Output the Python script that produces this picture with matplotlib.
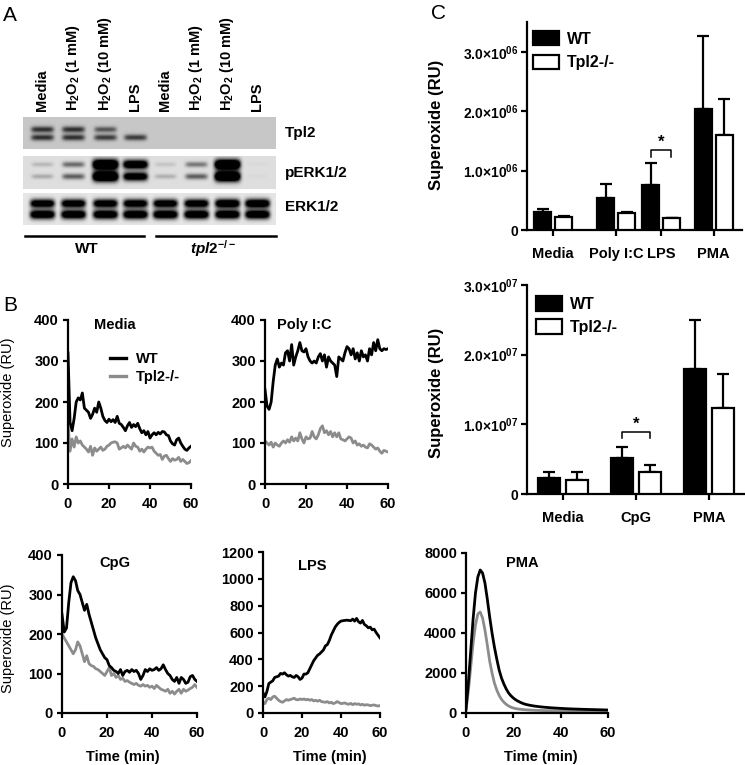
import numpy as np
import matplotlib
matplotlib.use("Agg")
import matplotlib.pyplot as plt
from matplotlib.lines import Line2D

plt.rcParams["font.family"] = ["Liberation Sans", "DejaVu Sans"]
plt.rcParams["font.weight"] = "bold"
plt.rcParams["mathtext.fontset"] = "custom"
plt.rcParams["mathtext.rm"] = "Liberation Sans:bold"
plt.rcParams["mathtext.bf"] = "Liberation Sans:bold"
plt.rcParams["mathtext.it"] = "Liberation Sans:bold:italic"
plt.rcParams["axes.linewidth"] = 1.5

W, H = 745, 765

# ---------------------------------------------------------------------------
# Panel A: western blot band intensities (0 = none, >1 = saturated)
# ---------------------------------------------------------------------------
lane_labels = ["Media", r"H$_2$O$_2$ (1 mM)", r"H$_2$O$_2$ (10 mM)", "LPS",
               "Media", r"H$_2$O$_2$ (1 mM)", r"H$_2$O$_2$ (10 mM)", "LPS"]
blot_labels = ["Tpl2", "pERK1/2", "ERK1/2"]
tpl2_upper = [0.60, 0.60, 0.45, 0.0, 0.0, 0.0, 0.0, 0.0]
tpl2_lower = [0.60, 0.60, 0.55, 0.55, 0.0, 0.0, 0.0, 0.0]
perk_upper = [0.15, 0.45, 1.6, 1.3, 0.10, 0.40, 1.6, 0.02]
perk_lower = [0.20, 0.50, 1.6, 1.2, 0.18, 0.50, 1.6, 0.02]
erk_upper = [1.2, 1.2, 1.2, 1.2, 1.2, 1.2, 1.3, 1.3]
erk_lower = [1.3, 1.3, 1.3, 1.3, 1.3, 1.3, 1.3, 1.3]

# ---------------------------------------------------------------------------
# Panel B: superoxide time courses, 1-min readings 0..60 min
# ---------------------------------------------------------------------------
media_wt = [320, 150, 130, 160, 200, 210, 205, 222, 185, 180,
            175, 160, 170, 185, 175, 200, 185, 165, 155, 150,
            158, 152, 157, 150, 165, 148, 145, 138, 130, 142,
            150, 138, 145, 140, 148, 135, 125, 130, 120, 128,
            112, 120, 125, 120, 126, 122, 128, 127, 120, 118,
            105, 98, 95, 108, 112, 100, 92, 85, 82, 88, 92]
media_ko = [150, 80, 110, 90, 115, 100, 105, 95, 90, 85,
            78, 92, 70, 88, 80, 85, 90, 82, 85, 92,
            95, 100, 102, 103, 100, 85, 88, 92, 88, 95,
            90, 85, 100, 92, 90, 80, 85, 78, 85, 90,
            88, 90, 80, 75, 70, 72, 60, 68, 70, 62,
            55, 62, 58, 60, 65, 55, 60, 55, 50, 52, 57]
poly_wt = [230, 190, 182, 200, 250, 290, 305, 285, 295, 290,
           320, 325, 300, 340, 290, 310, 325, 345, 325, 322,
           330, 310, 300, 295, 300, 295, 310, 318, 300, 315,
           285, 310, 300, 295, 290, 262, 310, 305, 300, 320,
           335, 330, 315, 330, 305, 320, 300, 325, 310, 315,
           300, 330, 315, 345, 325, 352, 330, 325, 330, 328, 330]
poly_ko = [105, 100, 95, 102, 90, 100, 95, 92, 100, 105,
           100, 108, 102, 115, 105, 112, 105, 125, 110, 100,
           115, 110, 112, 128, 115, 110, 120, 135, 142, 125,
           130, 120, 128, 115, 125, 115, 125, 110, 108, 105,
           110, 115, 112, 100, 105, 95, 98, 92, 95, 90,
           88, 98, 95, 90, 85, 88, 80, 75, 82, 80, 78]
cpg_wt = [250, 205, 215, 280, 330, 345, 335, 310, 300, 280,
          260, 275, 250, 230, 210, 190, 175, 160, 150, 140,
          135, 120, 115, 108, 105, 100, 110, 95, 105, 108,
          103, 110, 105, 108, 100, 85, 95, 110, 105, 112,
          108, 110, 115, 108, 112, 122, 110, 100, 95, 85,
          80, 90, 75, 90, 85, 75, 78, 92, 95, 85, 80]
cpg_ko = [200, 190, 180, 170, 160, 150, 160, 180, 170, 150,
          130, 145, 125, 120, 118, 112, 110, 105, 100, 95,
          105, 115, 95, 100, 90, 95, 85, 88, 80, 82,
          78, 75, 72, 75, 70, 68, 72, 68, 70, 65,
          68, 62, 70, 65, 60, 58, 55, 60, 50, 55,
          48, 55, 60, 50, 60, 55, 58, 62, 65, 72, 65]
lps_wt = [150, 120, 160, 220, 230, 240, 265, 270, 275, 295,
          290, 300, 285, 275, 280, 270, 265, 280, 270, 250,
          260, 290, 290, 300, 330, 360, 390, 410, 430, 440,
          455, 470, 500, 510, 540, 580, 610, 640, 660, 675,
          685, 688, 690, 692, 690, 688, 700, 685, 705, 680,
          670, 690, 660, 650, 635, 640, 620, 625, 600, 580, 560]
lps_ko = [80, 70, 100, 110, 100, 120, 125, 110, 95, 85,
          80, 90, 100, 95, 100, 105, 110, 100, 98, 105,
          100, 105, 98, 102, 95, 100, 90, 95, 88, 95,
          85, 82, 80, 85, 75, 80, 70, 75, 85, 78,
          70, 72, 75, 68, 65, 72, 62, 70, 65, 68,
          60, 65, 58, 62, 60, 55, 58, 60, 55, 52, 55]
pma_wt = [200, 1500, 3100, 4700, 6000, 6800, 7150, 7000, 6500, 5700,
          4800, 4000, 3300, 2700, 2150, 1750, 1450, 1200, 1000, 860,
          750, 660, 590, 530, 480, 440, 410, 385, 365, 345,
          330, 315, 302, 290, 280, 270, 260, 252, 245, 238,
          230, 224, 218, 212, 207, 202, 198, 194, 190, 186,
          182, 178, 175, 172, 169, 166, 163, 160, 157, 154, 150]
pma_ko = [150, 1100, 2300, 3500, 4400, 4950, 5050, 4750, 4150, 3400,
          2600, 2000, 1500, 1150, 880, 680, 540, 430, 350, 290,
          250, 220, 200, 185, 172, 162, 154, 147, 141, 136,
          132, 128, 125, 122, 119, 117, 115, 113, 111, 109,
          107, 105, 104, 103, 102, 101, 100, 99, 98, 97,
          96, 95, 94, 93, 92, 91, 90, 90, 89, 89, 88]

# ---------------------------------------------------------------------------
# Panel C: integrated superoxide, mean and upper SD
# ---------------------------------------------------------------------------
c1_groups = ["Media", "Poly I:C", "LPS", "PMA"]
c1_wt = [0.31e6, 0.54e6, 0.75e6, 2.04e6]
c1_wt_err = [0.05e6, 0.23e6, 0.37e6, 1.22e6]
c1_ko = [0.22e6, 0.29e6, 0.20e6, 1.60e6]
c1_ko_err = [0.01e6, 0.02e6, 0.01e6, 0.60e6]

c2_groups = ["Media", "CpG", "PMA"]
c2_wt = [0.225e7, 0.51e7, 1.80e7]
c2_wt_err = [0.095e7, 0.16e7, 0.70e7]
c2_ko = [0.20e7, 0.31e7, 1.23e7]
c2_ko_err = [0.11e7, 0.11e7, 0.49e7]

GRAY = "#8c8c8c"


def px_axes(fig, x0, y0, x1, y1):
    return fig.add_axes([x0 / W, 1 - y1 / H, (x1 - x0) / W, (y1 - y0) / H])


def blot_strip(ax, upper, lower, lane_x, bg, y_up, y_lo, h, w=253):
    xs = np.arange(w)[None, :]
    ys = np.arange(h)[:, None]
    img = np.full((h, w), bg, dtype=float)
    for i, (a, b) in enumerate(zip(upper, lower)):
        cx = lane_x[i]
        for amp, cy in ((a, y_up), (b, y_lo)):
            if amp <= 0:
                continue
            hh = 2.0 + 1.9 * min(amp, 1.6)
            hw = 10.5 + 1.5 * min(amp, 1.6)
            prof = np.exp(-((xs - cx) / hw) ** 6) * np.exp(-((ys - cy) / hh) ** 2)
            img -= amp * prof
    ax.imshow(np.clip(img, 0, 1), cmap="gray", vmin=0, vmax=1,
              aspect="auto", interpolation="bilinear")
    ax.axis("off")


def style_axes(ax, size=10):
    for s in ("top", "right"):
        ax.spines[s].set_visible(False)
    for s in ("left", "bottom"):
        ax.spines[s].set_linewidth(1.6)
    ax.tick_params(direction="out", length=3.5, width=1.6, labelsize=size, pad=3)
    for lab in ax.get_xticklabels() + ax.get_yticklabels():
        lab.set_fontweight("bold")


def time_panel(fig, rect, wt, ko, ymax, ystep):
    ax = px_axes(fig, *rect)
    ax.plot(np.linspace(0, 60, len(wt)), wt, color="black", lw=2.0, zorder=3)
    ax.plot(np.linspace(0, 60, len(ko)), ko, color=GRAY, lw=2.0, zorder=2)
    ax.set_xlim(0, 60)
    ax.set_ylim(0, ymax)
    ax.set_xticks([0, 20, 40, 60])
    ax.set_yticks(np.arange(0, ymax + 1, ystep))
    style_axes(ax, 10.5)
    ax.tick_params(axis="x", pad=6)
    for s in ("left", "bottom"):
        ax.spines[s].set_clip_on(False)
    return ax


def bar_panel(fig, rect, groups, centers, off, width, wt, wt_err, ko, ko_err,
              ymax, yticks, ylabels, xmax):
    ax = px_axes(fig, *rect)
    xw = [c - off for c in centers]
    xk = [c + off for c in centers]
    b1 = ax.bar(xw, wt, width, color="black", edgecolor="black", lw=1.6, zorder=3)
    b2 = ax.bar(xk, ko, width, color="white", edgecolor="black", lw=1.6, zorder=3)
    ax.errorbar(xw, wt, yerr=[np.zeros(len(wt)), wt_err], fmt="none",
                ecolor="black", elinewidth=1.6, capsize=4, capthick=1.6, zorder=2)
    ax.errorbar(xk, ko, yerr=[np.zeros(len(ko)), ko_err], fmt="none",
                ecolor="black", elinewidth=1.6, capsize=4, capthick=1.6, zorder=2)
    ax.set_xlim(0, xmax)
    ax.set_ylim(0, ymax)
    ax.set_yticks(yticks)
    ax.set_yticklabels(ylabels)
    ax.set_xticks(centers)
    ax.set_xticklabels(groups)
    style_axes(ax, 10)
    ax.tick_params(axis="x", length=4, labelsize=10.5, pad=8)
    ax.tick_params(axis="y", length=4, pad=2)
    return ax, b1, b2


def bracket(ax, x0, x1, y_arm, y_top, y_star):
    ax.plot([x0, x0, x1, x1], [y_arm, y_top, y_top, y_arm], color="black", lw=1.1)
    ax.text((x0 + x1) / 2, y_star, "*", ha="center", va="center", fontsize=12)


fig = plt.figure(figsize=(W / 100, H / 100), dpi=100)

# ---- A: blot ----------------------------------------------------------------
lane_px = [42, 73, 105, 135, 165, 196, 227, 257]
lane_rel = [x - 23 for x in lane_px]
ax_t = px_axes(fig, 23, 117, 276, 149)
blot_strip(ax_t, tpl2_upper, tpl2_lower, lane_rel, 0.78, 12, 20, 32)
ax_p = px_axes(fig, 23, 156, 276, 189)
blot_strip(ax_p, perk_upper, perk_lower, lane_rel, 0.87, 8, 20, 33)
ax_e = px_axes(fig, 23, 193, 276, 225)
blot_strip(ax_e, erk_upper, erk_lower, lane_rel, 0.90, 10, 21, 32)

# ---- B: time courses ---------------------------------------------------------
ax_m = time_panel(fig, (68, 320, 191, 484), media_wt, media_ko, 400, 100)
ax_pic = time_panel(fig, (265, 320, 388, 484), poly_wt, poly_ko, 400, 100)
ax_c = time_panel(fig, (62, 555, 197, 713), cpg_wt, cpg_ko, 400, 100)
ax_l = time_panel(fig, (263, 552, 380, 713), lps_wt, lps_ko, 1200, 200)
ax_pm = time_panel(fig, (466, 553, 608, 713), pma_wt, pma_ko, 8000, 2000)

ax_m.legend(handles=[Line2D([], [], color="black", lw=2.4),
                     Line2D([], [], color=GRAY, lw=2.4)],
            labels=["WT", "Tpl2-/-"], loc="upper left", frameon=False,
            bbox_to_anchor=(110 / W, 1 - 352 / H), bbox_transform=fig.transFigure,
            borderaxespad=0, borderpad=0, handlelength=1.1, handletextpad=0.7,
            labelspacing=0.25, prop={"size": 10.5, "weight": "bold"})

# ---- C: bar charts -----------------------------------------------------------
sci6 = ["0", r"1.0×10$^{06}$", r"2.0×10$^{06}$", r"3.0×10$^{06}$"]
sci7 = ["0", r"1.0×10$^{07}$", r"2.0×10$^{07}$", r"3.0×10$^{07}$"]
ax_c1, h1, h2 = bar_panel(fig, (527, 22, 742, 230), c1_groups, [26, 89, 134, 186.5],
                          10.5, 17, c1_wt, c1_wt_err, c1_ko, c1_ko_err,
                          3.5e6, [0, 1e6, 2e6, 3e6], sci6, 215)
bracket(ax_c1, 124, 144, 1.23e6, 1.35e6, 1.47e6)
ax_c1.legend([h1, h2], ["WT", "Tpl2-/-"], loc="upper left", frameon=False,
             bbox_to_anchor=(533 / W, 1 - 31 / H), bbox_transform=fig.transFigure,
             borderaxespad=0, borderpad=0, handlelength=1.6, handleheight=1.0,
             handletextpad=0.5, labelspacing=0.5, prop={"size": 11.5, "weight": "bold"})

ax_c2, g1, g2 = bar_panel(fig, (527, 285, 745, 494), c2_groups, [35.5, 109, 182],
                          14, 22, c2_wt, c2_wt_err, c2_ko, c2_ko_err,
                          3.0e7, [0, 1e7, 2e7, 3e7], sci7, 218)
bracket(ax_c2, 95, 123, 0.80e7, 0.895e7, 1.0e7)
ax_c2.legend([g1, g2], ["WT", "Tpl2-/-"], loc="upper left", frameon=False,
             bbox_to_anchor=(536 / W, 1 - 296 / H), bbox_transform=fig.transFigure,
             borderaxespad=0, borderpad=0, handlelength=1.65, handleheight=1.05,
             handletextpad=0.5, labelspacing=0.45, prop={"size": 11.5, "weight": "bold"})

# ---- overlay for labels, in pixel coordinates --------------------------------
ov = fig.add_axes([0, 0, 1, 1])
ov.set_xlim(0, W)
ov.set_ylim(H, 0)
ov.axis("off")
ov.patch.set_alpha(0)

for letter, (x, y) in zip("ABC", [(3, 15), (3, 305), (431, 13)]):
    ov.text(x, y, letter, fontsize=15, fontweight="normal", ha="left", va="center")

for x, lab in zip(lane_px, lane_labels):
    ov.text(x, 111, lab, rotation=90, ha="center", va="bottom", fontsize=10.5)
for y, lab in zip([133, 173, 207], blot_labels):
    ov.text(285, y, lab, ha="left", va="center", fontsize=11)
ov.plot([25, 144], [236, 236], color="black", lw=1.8)
ov.plot([156, 276], [236, 236], color="black", lw=1.8)
ov.text(87, 249, "WT", ha="center", va="center", fontsize=11)
ov.text(213, 249, r"$\mathit{tpl2}^{\mathit{-/-}}$", ha="center", va="center", fontsize=11)

for (x, y), t in zip([(115, 325), (304, 325), (115, 563), (312, 566), (522, 563)],
                     ["Media", "Poly I:C", "CpG", "LPS", "PMA"]):
    ov.text(x, y, t, ha="center", va="center", fontsize=10.5)
for x in [123, 330, 541]:
    ov.text(x, 757, "Time (min)", ha="center", va="center", fontsize=10.5)
for y in [392, 638]:
    ov.text(8, y, "Superoxide (RU)", rotation=90, ha="center", va="center",
            fontsize=10.5, fontweight="normal")
for y in [125, 393]:
    ov.text(437, y, "Superoxide (RU)", rotation=90, ha="center", va="center",
            fontsize=12)

fig.savefig("out.png", dpi=100)
